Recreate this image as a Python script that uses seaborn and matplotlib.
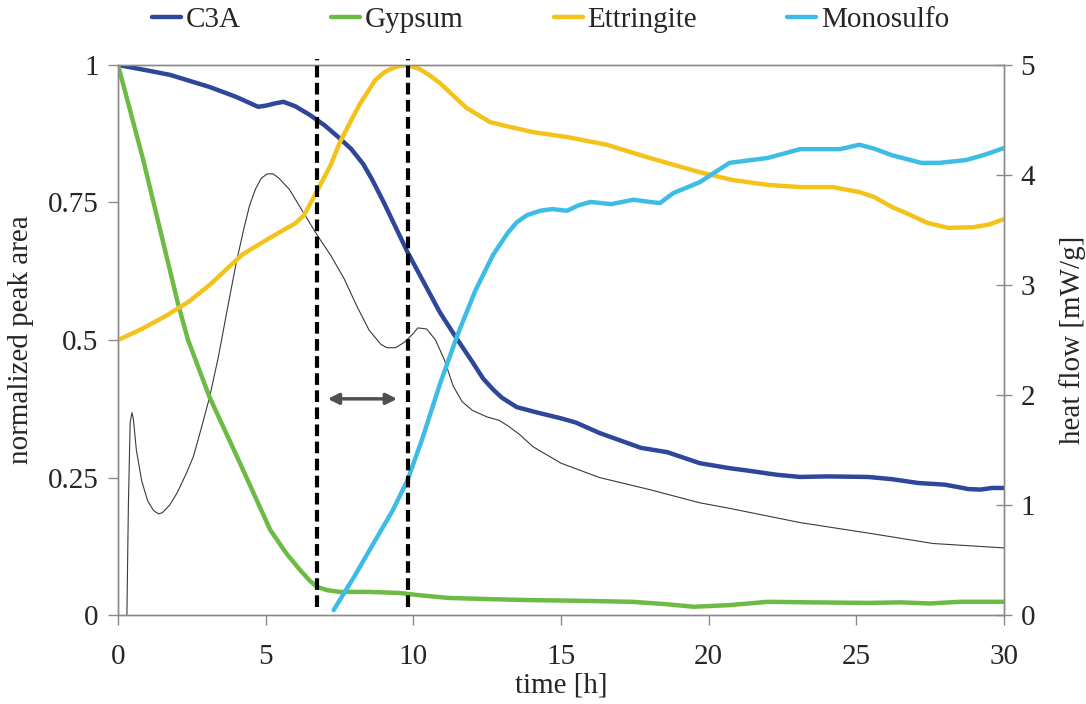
import matplotlib
matplotlib.use("Agg")
import matplotlib.pyplot as plt
import numpy as np
import pandas as pd
import seaborn as sns

# ---- data -------------------------------------------------------------
c3a_t = [0, 1.0, 1.76, 3.1, 4.0, 4.74, 5.0, 5.3, 5.6, 6.0, 6.5, 7.0, 7.5, 7.9, 8.3,
         8.6, 9.0, 9.4, 9.8, 10.3, 10.6, 10.9, 11.5, 12.0, 12.36, 12.7, 13.0, 13.5,
         14.2, 14.97, 15.5, 16.3, 17.7, 18.6, 19.7, 20.7, 21.4, 22.3, 23.1, 24.0,
         25.4, 26.2, 27.1, 28.0, 28.8, 29.2, 29.6, 30.0]
c3a_v = [1.0, 0.99, 0.982, 0.96, 0.942, 0.924, 0.926, 0.93, 0.933, 0.925, 0.909,
         0.89, 0.867, 0.847, 0.82, 0.792, 0.75, 0.705, 0.66, 0.61, 0.58, 0.55,
         0.50, 0.46, 0.43, 0.41, 0.395, 0.378, 0.368, 0.358, 0.35, 0.331, 0.304,
         0.296, 0.276, 0.267, 0.262, 0.255, 0.251, 0.252, 0.251, 0.247, 0.24,
         0.237, 0.229, 0.228, 0.231, 0.231]

gyp_t = [0, 0.85, 2.03, 2.37, 3.1, 4.13, 5.15, 5.7, 6.16, 6.5, 6.74, 7.1, 7.5,
         8.5, 9.55, 10.2, 11.2, 12.5, 14.05, 15.5, 17.4, 18.5, 19.5, 20.7, 22.0,
         23.5, 25.4, 26.5, 27.5, 28.5, 30.0]
gyp_v = [1.0, 0.828, 0.566, 0.5, 0.396, 0.276, 0.155, 0.112, 0.082, 0.062,
         0.051, 0.045, 0.042, 0.042, 0.04, 0.036, 0.031, 0.029, 0.027, 0.026,
         0.024, 0.02, 0.015, 0.018, 0.024, 0.023, 0.022, 0.023, 0.021, 0.024,
         0.024]

ett_t = [0, 0.8, 1.66, 2.4, 3.1, 3.7, 4.2, 4.9, 5.6, 6.0, 6.3, 6.67, 7.2, 7.5, 7.86,
         8.2, 8.5, 8.7, 9.0, 9.2, 9.5, 9.8, 10.2, 10.5, 10.9, 11.8, 12.6, 13.3,
         14.05, 15.2, 16.55, 18.0, 19.7, 20.8, 22.0, 23.1, 24.2, 25.1, 25.6, 26.2,
         26.8, 27.4, 28.1, 28.95, 29.5, 30.0]
ett_v = [0.5, 0.52, 0.545, 0.57, 0.6, 0.63, 0.655, 0.678, 0.7, 0.712, 0.727, 0.764,
         0.818, 0.858, 0.896, 0.93, 0.955, 0.972, 0.986, 0.992, 0.998, 1.0, 0.993,
         0.983, 0.967, 0.922, 0.896, 0.887, 0.878, 0.869, 0.855, 0.831, 0.805,
         0.791, 0.782, 0.778, 0.778, 0.769, 0.76, 0.742, 0.728, 0.713, 0.704,
         0.705, 0.71, 0.72]

mono_t = [7.3, 8.0, 8.7, 9.3, 9.8, 10.3, 10.9, 11.5, 12.1, 12.7, 13.2, 13.5, 13.85,
          14.3, 14.7, 15.2, 15.6, 16.0, 16.7, 17.45, 18.0, 18.35, 18.8, 19.7, 20.7,
          22.0, 23.1, 24.45, 25.1, 25.6, 26.2, 27.2, 27.8, 28.7, 29.3, 30.0]
mono_v = [0.009, 0.07, 0.135, 0.19, 0.245, 0.32, 0.42, 0.51, 0.59, 0.655, 0.695,
          0.714, 0.727, 0.735, 0.738, 0.735, 0.745, 0.751, 0.747, 0.755, 0.751,
          0.749, 0.767, 0.787, 0.822, 0.831, 0.847, 0.847, 0.855, 0.848, 0.836,
          0.822, 0.822, 0.827, 0.836, 0.849]

heat_t = [0.30, 0.33, 0.35, 0.41, 0.47, 0.52, 0.62, 0.8, 1.0, 1.2, 1.37, 1.5, 1.75,
          2.0, 2.3, 2.55, 2.8, 3.1, 3.4, 3.7, 4.0, 4.25, 4.45, 4.65, 4.85, 5.05,
          5.25, 5.45, 5.8, 6.25, 6.75, 7.2, 7.65, 8.1, 8.5, 8.9, 9.1, 9.4, 9.7,
          10.0, 10.15, 10.45, 10.75, 11.05, 11.35, 11.65, 12.0, 12.5, 12.9, 13.2,
          13.6, 14.05, 15.0, 16.3, 18.0, 19.7, 20.7, 23.1, 25.4, 27.6, 30.0]
heat_v = [0, 0.6, 1.0, 1.75, 1.84, 1.78, 1.5, 1.22, 1.04, 0.95, 0.92, 0.93, 1.0,
          1.11, 1.28, 1.44, 1.68, 1.98, 2.35, 2.78, 3.2, 3.5, 3.72, 3.87, 3.97,
          4.01, 4.01, 3.97, 3.87, 3.67, 3.45, 3.27, 3.06, 2.8, 2.59, 2.46, 2.43,
          2.43, 2.48, 2.56, 2.61, 2.6, 2.5, 2.32, 2.08, 1.94, 1.86, 1.80, 1.77,
          1.72, 1.64, 1.53, 1.38, 1.25, 1.14, 1.02, 0.97, 0.84, 0.745, 0.65, 0.61]

onset_lines = [6.73, 9.82]          # dashed markers [h]
arrow_span = (7.1, 9.45)            # double arrow between markers [h]

series = {
    "C3A": (c3a_t, c3a_v, "#2E479A"),
    "Gypsum": (gyp_t, gyp_v, "#6DBA45"),
    "Ettringite": (ett_t, ett_v, "#F4C31B"),
    "Monosulfo": (mono_t, mono_v, "#3DBDE6"),
}

# ---- style ------------------------------------------------------------
sns.set_theme(style="white")
plt.rcParams["font.family"] = ["Liberation Serif", "DejaVu Serif"]
FS = 21
spine_c = "#8a8a8a"

fig = plt.figure(figsize=(10.86, 7.04), dpi=100)
ax = fig.add_axes([0.1087, 0.1264, 0.8158, 0.7813])
ax2 = ax.twinx()
ax2.set_zorder(0)
ax.set_zorder(1)
ax.patch.set_visible(False)

# heat flow on the right axis
heat_df = pd.DataFrame({"t": heat_t, "q": heat_v})
sns.lineplot(data=heat_df, x="t", y="q", ax=ax2, color="#3a3a3a", lw=0.8,
             legend=False)

# phase curves on the left axis
for name, (t, v, c) in series.items():
    df = pd.DataFrame({"t": t, "v": v})
    sns.lineplot(data=df, x="t", y="v", ax=ax, color=c, lw=3.2, label=name,
                 legend=False)

for x0 in onset_lines:
    ax.plot([x0, x0], [0.015, 1.01], color="black", lw=3,
            linestyle=(0, (2.8, 1.3)), clip_on=False, zorder=5)

ax.annotate("", xy=(arrow_span[0], 0.393), xytext=(arrow_span[1], 0.393),
            arrowprops=dict(arrowstyle="<|-|>", color="#505050", lw=2.5,
                            mutation_scale=16, shrinkA=0, shrinkB=0))

# axes
ax.set_xlim(0, 30)
ax.set_ylim(0, 1)
ax2.set_ylim(0, 5)
ax.set_xticks(range(0, 31, 5))
ax.set_yticks([0, 0.25, 0.5, 0.75, 1])
ax.set_yticklabels(["0", "0.25", "0.5", "0.75", "1"])
ax2.set_yticks(range(0, 6))

for a in (ax, ax2):
    for s in a.spines.values():
        s.set_color(spine_c)
        s.set_linewidth(1.0)
    a.grid(False)

ax.tick_params(axis="x", direction="out", length=7, width=1, color=spine_c,
               labelsize=FS, pad=14, bottom=True)
ax.tick_params(axis="y", direction="out", length=7, width=1, color=spine_c,
               labelsize=FS, pad=7, left=True)
ax2.tick_params(axis="y", direction="inout", length=12, width=1, color=spine_c,
                labelsize=FS, pad=6, right=True)

ax.set_xlabel("time [h]", fontsize=FS, labelpad=2)
ax.set_ylabel("normalized peak area", fontsize=FS, labelpad=10)
ax2.set_ylabel("heat flow [mW/g]", fontsize=FS, labelpad=17)

handles, labels = ax.get_legend_handles_labels()
fig.legend(handles, labels, loc="center", bbox_to_anchor=(0.507, 0.972),
           ncol=4, frameon=False, fontsize=FS, handlelength=1.0,
           handletextpad=0.15, columnspacing=3.1)

fig.savefig("out.png", dpi=100)
